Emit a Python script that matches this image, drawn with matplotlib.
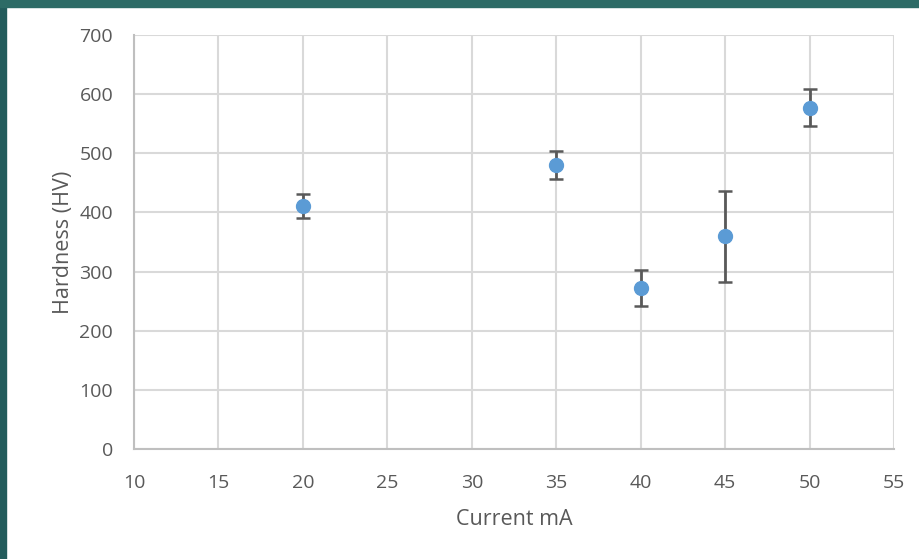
import numpy as np
import matplotlib.pyplot as plt
from matplotlib.patches import Rectangle

plt.rcParams['font.family'] = ['Open Sans', 'DejaVu Sans']

# Data
current = [20, 35, 40, 45, 50]
hardness = [411, 480, 272, 360, 577]
err = [21, 24, 30, 77, 31]

fig = plt.figure(figsize=(9.2, 5.59), dpi=100)
ax = fig.add_axes([134 / 920, 1 - 449 / 559, 760 / 920, 414 / 559])

# teal frame (left and top)
fig.patches.append(Rectangle((0, 0), 6 / 920, 1, transform=fig.transFigure,
                             color='#235c5c', zorder=0))
fig.patches.append(Rectangle((0, 1 - 7 / 559), 1, 7 / 559, transform=fig.transFigure,
                             color='#2d6b66', zorder=0))

ax.errorbar(current, hardness, yerr=err, fmt='o', color='#5b9bd5', ms=10,
            ecolor='#595959', elinewidth=2, capsize=5, capthick=1.8, zorder=3)

ax.set_xlim(10, 55)
ax.set_ylim(0, 700)
ax.set_xticks(np.arange(10, 56, 5))
ax.set_yticks(np.arange(0, 701, 100))
ax.grid(True, color='#d9d9d9', linewidth=1.5)
ax.set_axisbelow(True)

for s in ['top', 'right']:
    ax.spines[s].set_visible(False)
for s in ['left', 'bottom']:
    ax.spines[s].set_color('#bfbfbf')
    ax.spines[s].set_linewidth(1.5)

ax.tick_params(length=0, labelsize=14, labelcolor='#595959')
ax.tick_params(axis='y', pad=15)
ax.tick_params(axis='x', pad=18)
ax.set_xlabel('Current mA', fontsize=15.5, color='#595959', labelpad=12)
ax.set_ylabel('Hardness (HV)', fontsize=15.5, color='#595959', labelpad=4)

fig.savefig('out.png', dpi=100)
